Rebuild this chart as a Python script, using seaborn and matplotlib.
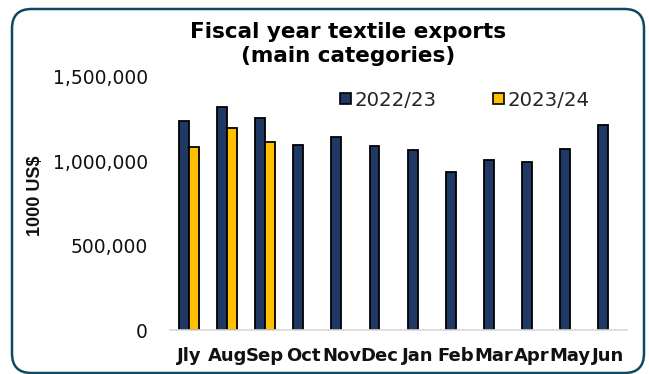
import matplotlib
matplotlib.use("Agg")
import matplotlib.pyplot as plt
from matplotlib.patches import FancyBboxPatch
from matplotlib.ticker import FuncFormatter
import numpy as np
import pandas as pd
import seaborn as sns

# Monthly textile exports, 1000 US$
months = ["Jly", "Aug", "Sep", "Oct", "Nov", "Dec", "Jan", "Feb", "Mar", "Apr", "May", "Jun"]
fy_2022_23 = [1241000, 1320000, 1255000, 1097000, 1142000, 1093000,
              1065000, 935000, 1008000, 994000, 1071000, 1217000]
fy_2023_24 = [1087000, 1196000, 1113000, np.nan, np.nan, np.nan,
              np.nan, np.nan, np.nan, np.nan, np.nan, np.nan]
seasons = ["2022/23", "2023/24"]
colors = ["#1f3864", "#ffc000"]
y_ticks = [0, 500000, 1000000, 1500000]

df = pd.DataFrame({
    "month": months * 2,
    "season": [seasons[0]] * len(months) + [seasons[1]] * len(months),
    "value": fy_2022_23 + fy_2023_24,
})

sns.set_theme(style="white")
plt.rcParams["font.family"] = ["DejaVu Sans"]

fig = plt.figure(figsize=(6.49, 3.74), dpi=100)
ax = fig.add_axes([170 / 649, 1 - 330 / 374, 457 / 649, 253 / 374])

sns.barplot(data=df, x="month", y="value", hue="season", order=months,
            hue_order=seasons, palette=colors, width=0.52,
            edgecolor="black", linewidth=1.3, saturation=1, ax=ax)

handles, labels = ax.get_legend_handles_labels()
if ax.get_legend() is not None:
    ax.get_legend().remove()

ax.set_xlim(-0.5, len(months) - 0.5)
ax.set_ylim(0, 1500000)
ax.set_yticks(y_ticks)
ax.yaxis.set_major_formatter(FuncFormatter(lambda v, p: f"{int(v):,}"))
ax.set_xlabel("")
ax.set_ylabel("")

for s in ["top", "right", "left"]:
    ax.spines[s].set_visible(False)
ax.spines["bottom"].set_color("#d9d9d9")
ax.spines["bottom"].set_linewidth(1.2)
ax.grid(False)

ax.tick_params(axis="x", length=0, pad=12)
ax.tick_params(axis="y", length=0, pad=16)
for t in ax.get_xticklabels():
    t.set_fontfamily(["Liberation Sans Narrow", "DejaVu Sans"])
    t.set_fontweight("bold")
    t.set_fontsize(13)
    t.set_color("#111111")
for t in ax.get_yticklabels():
    t.set_fontfamily(["DejaVu Sans"])
    t.set_fontsize(13.5)
    t.set_color("#111111")

fig.text(35 / 649, 1 - 196 / 374, "1000 US$", rotation=90, ha="center",
         va="center", fontsize=13, fontweight="bold", color="#111111",
         family=["Liberation Sans", "DejaVu Sans"])

fig.text(348 / 649, 1 - 44 / 374, "Fiscal year textile exports\n(main categories)",
         ha="center", va="center", fontsize=15.5, fontweight="bold",
         family=["DejaVu Sans"], linespacing=1.3, color="#000000")

leg = fig.legend(handles, labels, loc="center left",
                 bbox_to_anchor=(340 / 649, 1 - 100 / 374), ncol=2,
                 frameon=False, handlelength=0.55, handleheight=0.55,
                 handletextpad=0.2, columnspacing=2.85, borderpad=0,
                 borderaxespad=0, prop={"family": ["DejaVu Sans"], "size": 14.2})
for h in leg.legend_handles:
    h.set_edgecolor("black")
    h.set_linewidth(1.2)

border = FancyBboxPatch((12 / 649, 1 - 373 / 374), 632 / 649, 364 / 374,
                        boxstyle="round,pad=0,rounding_size=0.03",
                        transform=fig.transFigure, fill=False,
                        edgecolor="#0f4a63", linewidth=1.8, mutation_aspect=649 / 374)
fig.patches.append(border)

fig.savefig("out.png", dpi=100)
